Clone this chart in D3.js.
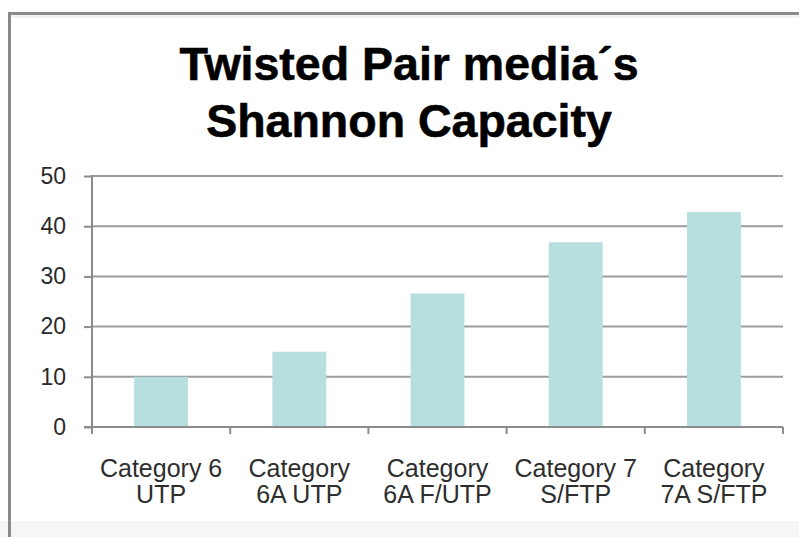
<!DOCTYPE html>
<html>
<head>
<meta charset="utf-8">
<script src="https://cdn.jsdelivr.net/npm/d3@7"></script>
<style>
  html, body { margin: 0; padding: 0; background: #fff; }
  svg { display: block; }
  text { font-family: "Liberation Sans", Arial, sans-serif; }
</style>
</head>
<body>
<svg id="chart" width="799" height="537"></svg>
<script>
// Shannon capacity per twisted-pair cable class
const categories = [
  ["Category 6", "UTP"],
  ["Category", "6A UTP"],
  ["Category", "6A F/UTP"],
  ["Category 7", "S/FTP"],
  ["Category", "7A S/FTP"]
];
const capacity = [10, 15, 26.6, 36.8, 42.8];
const yTicks = [0, 10, 20, 30, 40, 50];
const titleLines = ["Twisted Pair media\u00b4s", "Shannon Capacity"];

const svg = d3.select("#chart");
const W = 799, H = 537;

// frame: grey rule along the top and left edges, pale strip at the bottom
svg.append("rect").attr("x", 0).attr("y", 521).attr("width", W).attr("height", H - 521)
  .attr("fill", "#f6f6f6");
svg.append("line").attr("x1", 8).attr("x2", W).attr("y1", 13.5).attr("y2", 13.5)
  .attr("stroke", "#8a8a8a").attr("stroke-width", 3);
svg.append("line").attr("x1", 9.5).attr("x2", 9.5).attr("y1", 12).attr("y2", H)
  .attr("stroke", "#8a8a8a").attr("stroke-width", 3);
svg.append("line").attr("x1", 11).attr("x2", W).attr("y1", 16.5).attr("y2", 16.5)
  .attr("stroke", "#eeeeee").attr("stroke-width", 2);

// title
svg.append("g").selectAll("text").data(titleLines).join("text")
  .attr("x", 409)
  .attr("y", (d, i) => 80 + i * 57)
  .attr("text-anchor", "middle")
  .attr("font-size", 46.5)
  .attr("font-weight", "bold")
  .attr("fill", "#000")
  .attr("stroke", "#000")
  .attr("stroke-width", 0.6)
  .text(d => d);

const plot = { left: 92, right: 783, top: 176, bottom: 427 };

const x = d3.scaleBand()
  .domain(categories.map((d, i) => i))
  .range([plot.left, plot.right])
  .paddingInner(0.61)
  .paddingOuter(0.305);

const y = d3.scaleLinear()
  .domain([0, 50])
  .range([plot.bottom, plot.top]);

// horizontal gridlines
svg.append("g").selectAll("line").data(yTicks.filter(t => t > 0)).join("line")
  .attr("x1", plot.left).attr("x2", plot.right)
  .attr("y1", d => y(d)).attr("y2", d => y(d))
  .attr("stroke", "#9c9c9c").attr("stroke-width", 2);

// bars
svg.append("g").selectAll("rect").data(capacity).join("rect")
  .attr("x", (d, i) => x(i))
  .attr("width", x.bandwidth())
  .attr("y", d => y(d))
  .attr("height", d => y(0) - y(d))
  .attr("fill", "#b7dfe0");

// y axis
const yAxis = svg.append("g")
  .attr("transform", `translate(${plot.left},0)`)
  .call(d3.axisLeft(y).tickValues(yTicks).tickSize(8).tickPadding(18).tickSizeOuter(0));
yAxis.select(".domain").remove();
yAxis.selectAll(".tick line").attr("stroke", "#8c8c8c").attr("stroke-width", 2);
yAxis.selectAll(".tick text")
  .attr("font-size", 23)
  .attr("fill", "#2a2a2a")
  .attr("font-family", "Liberation Sans, Arial, sans-serif");
svg.append("line")
  .attr("x1", plot.left).attr("x2", plot.left)
  .attr("y1", plot.top - 1).attr("y2", plot.bottom + 7)
  .attr("stroke", "#8c8c8c").attr("stroke-width", 2);

// x axis baseline and category boundary ticks
svg.append("line")
  .attr("x1", plot.left - 8).attr("x2", plot.right)
  .attr("y1", y(0)).attr("y2", y(0))
  .attr("stroke", "#8c8c8c").attr("stroke-width", 2);
const bounds = d3.range(categories.length + 1).map(i => plot.left + i * x.step());
svg.append("g").selectAll("line").data(bounds.slice(1)).join("line")
  .attr("x1", d => d).attr("x2", d => d)
  .attr("y1", y(0)).attr("y2", y(0) + 7)
  .attr("stroke", "#8c8c8c").attr("stroke-width", 2);

// category labels, two lines each
const lab = svg.append("g").selectAll("text").data(categories).join("text")
  .attr("text-anchor", "middle")
  .attr("font-size", 25)
  .attr("fill", "#2e2e2e");
lab.selectAll("tspan").data((d, i) => d.map(s => ({ s, i }))).join("tspan")
  .attr("x", d => x(d.i) + x.bandwidth() / 2)
  .attr("y", (d, j) => 477 + j * 26)
  .text(d => d.s);
</script>
</body>
</html>
